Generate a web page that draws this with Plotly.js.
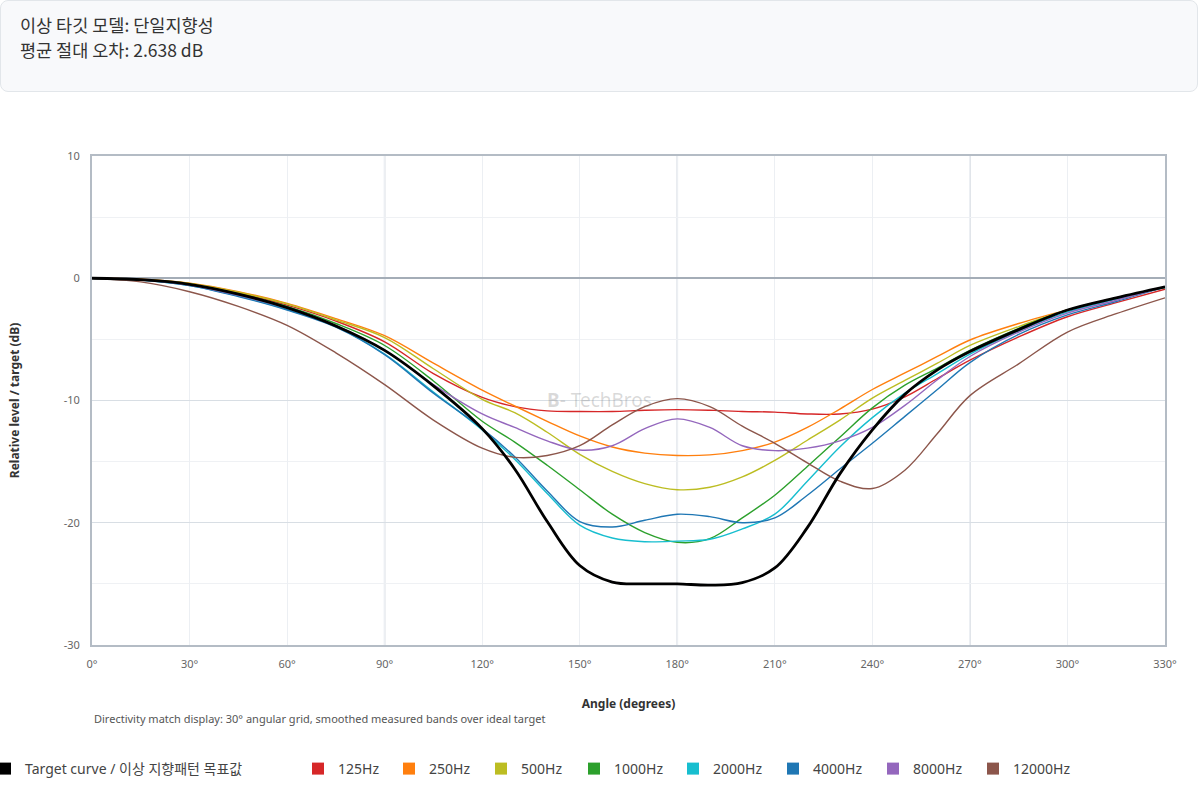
<!DOCTYPE html>
<html>
<head>
<meta charset="utf-8">
<script src="https://cdn.plot.ly/plotly-3.0.1.min.js"></script>
<style>
  html, body { margin: 0; padding: 0; background: #ffffff; }
  #wrap { position: relative; width: 1200px; height: 800px; overflow: hidden; }
  #chart { position: absolute; left: 0; top: 0; width: 1200px; height: 800px; }
  #header {
    position: absolute; left: 0; top: 0; width: 1198px; height: 92px;
    box-sizing: border-box; border: 1px solid #e2e6ea; border-radius: 8px;
    background: #f8f9fb; padding: 11px 0 0 19px; z-index: 5;
    font-family: "Noto Sans CJK KR", "Noto Sans", sans-serif; font-size: 17.5px;
    line-height: 25px; color: #333;
  }
</style>
</head>
<body>
<div id="wrap">
  <div id="chart"></div>
  <div id="header">
    <div id="line1"></div>
    <div id="line2"></div>
  </div>
</div>
<script>
// ---- header texts ----
const headerModel = "이상 타깃 모델: 단일지향성";
const headerError = "평균 절대 오차: 2.638 dB";

// ---- axis ticks ----
const xTickVals = [0, 30, 60, 90, 120, 150, 180, 210, 240, 270, 300, 330];
const xTickText = ["0°", "30°", "60°", "90°", "120°", "150°", "180°", "210°", "240°", "270°", "300°", "330°"];
const yTickVals = [-30, -20, -10, 0, 10];
const yTickText = ["-30", "-20", "-10", "0", "10"];
const majorAngles = [90, 180, 270];

// ---- data (dB) ----
const angles = [0, 15, 30, 45, 60, 75, 90, 105, 120, 130, 140, 150, 160, 170, 180, 190, 200, 210, 220, 230, 240, 250, 260, 270, 285, 300, 315, 330];

const target   = [0, -0.12, -0.5, -1.3, -2.4, -3.9, -5.9, -8.8, -12.3, -15.6, -19.9, -23.5, -24.85, -25.0, -25.0, -25.1, -24.9, -23.7, -20.4, -16.0, -12.4, -9.5, -7.5, -6.0, -4.2, -2.6, -1.6, -0.7];
const hz125    = [0, -0.1, -0.45, -1.2, -2.2, -3.5, -5.2, -7.8, -9.75, -10.5, -10.85, -10.9, -10.9, -10.8, -10.75, -10.8, -10.9, -10.95, -11.1, -11.1, -10.7, -9.7, -8.2, -6.7, -4.8, -3.15, -2.0, -0.9];
const hz250    = [0, -0.08, -0.4, -1.1, -2.05, -3.3, -4.7, -6.95, -9.15, -10.45, -11.7, -12.9, -13.8, -14.3, -14.5, -14.45, -14.1, -13.4, -12.2, -10.7, -9.1, -7.75, -6.4, -5.05, -3.7, -2.6, -1.6, -0.75];
const hz500    = [0, -0.1, -0.42, -1.15, -2.1, -3.4, -4.85, -7.4, -9.9, -11.0, -12.6, -14.4, -15.8, -16.8, -17.3, -17.1, -16.25, -14.9, -13.25, -11.6, -9.8, -8.35, -6.95, -5.5, -3.95, -2.6, -1.6, -0.75];
const hz1000   = [0, -0.12, -0.5, -1.3, -2.3, -3.7, -5.5, -8.4, -11.7, -13.4, -15.3, -17.3, -19.3, -20.8, -21.6, -21.3, -19.6, -17.75, -15.4, -13.0, -10.6, -8.75, -7.35, -5.9, -4.1, -2.6, -1.6, -0.7];
const hz2000   = [0, -0.15, -0.6, -1.45, -2.55, -3.95, -6.2, -9.3, -12.4, -14.8, -17.6, -20.2, -21.25, -21.55, -21.5, -21.35, -20.5, -19.3, -16.6, -13.8, -11.4, -9.4, -7.8, -6.2, -4.3, -2.75, -1.7, -0.75];
const hz4000   = [0, -0.15, -0.6, -1.5, -2.6, -4.0, -6.25, -9.4, -12.3, -14.6, -17.4, -19.9, -20.35, -19.8, -19.3, -19.5, -20.0, -19.6, -17.75, -15.6, -13.5, -11.3, -9.1, -6.9, -4.6, -3.0, -1.9, -0.7];
const hz8000   = [0, -0.12, -0.55, -1.4, -2.45, -3.85, -5.9, -8.7, -11.1, -12.2, -13.3, -14.05, -13.7, -12.3, -11.5, -12.2, -13.7, -14.1, -13.9, -13.3, -12.2, -10.4, -8.3, -6.4, -4.4, -2.85, -1.8, -0.7];
const hz12000  = [0, -0.3, -1.1, -2.3, -3.85, -6.1, -8.7, -11.6, -13.9, -14.65, -14.5, -13.7, -12.0, -10.5, -9.85, -10.5, -12.1, -13.5, -15.1, -16.6, -17.2, -15.7, -12.7, -9.6, -7.0, -4.4, -2.9, -1.6];

const targetName = "Target curve / 이상 지향패턴 목표값";
const bandNames  = ["125Hz", "250Hz", "500Hz", "1000Hz", "2000Hz", "4000Hz", "8000Hz", "12000Hz"];
const bandValues = [hz125, hz250, hz500, hz1000, hz2000, hz4000, hz8000, hz12000];
const bandColors = ["#d62728", "#ff7f0e", "#bcbd22", "#2ca02c", "#17becf", "#1f77b4", "#9467bd", "#8c564b"];
const targetColor = "#000000";

// legend entry left positions (px in the 1200px container)
const legendLeftPx = [0, 298, 389, 481, 574, 673, 773, 873, 973];

const noteText = "Directivity match display: 30° angular grid, smoothed measured bands over ideal target";

document.getElementById("line1").textContent = headerModel;
document.getElementById("line2").textContent = headerError;

const FONT = "Noto Sans, Noto Sans CJK KR, sans-serif";

const traces = [];
bandNames.forEach((name, i) => {
  traces.push({
    x: angles, y: bandValues[i], type: "scatter", mode: "lines", name: name,
    line: { color: bandColors[i], width: 1.4, shape: "spline", smoothing: 1 },
    showlegend: false
  });
});
traces.push({
  x: angles, y: target, type: "scatter", mode: "lines", name: targetName,
  line: { color: targetColor, width: 2.8, shape: "spline", smoothing: 1 },
  showlegend: false
});

// legend entries (square swatches), one legend box each for exact spacing
const legendNames = [targetName].concat(bandNames);
const legendColors = [targetColor].concat(bandColors);
const layoutLegends = {};
legendNames.forEach((name, i) => {
  const key = i === 0 ? "legend" : "legend" + (i + 1);
  traces.push({
    x: [null], y: [null], type: "scatter", mode: "markers", name: name,
    marker: { symbol: "square", size: 12, color: legendColors[i] }, legend: key, hoverinfo: "skip"
  });
  layoutLegends[key] = {
    orientation: "h", xref: "container", yref: "container",
    x: legendLeftPx[i] / 1200, xanchor: "left", y: 1 - 769 / 800, yanchor: "middle",
    indentation: i === 0 ? -15 : 0,
    font: { family: FONT, size: 14, color: "#444" }, bgcolor: "rgba(0,0,0,0)", borderwidth: 0
  };
});

const shapes = majorAngles.map(a => ({
  type: "line", xref: "x", yref: "paper", x0: a, x1: a, y0: 0, y1: 1,
  line: { color: "#d5dbe2", width: 1.6 }, layer: "below"
}));

const layout = Object.assign({
  width: 1200, height: 800,
  margin: { l: 92, r: 35, t: 156, b: 155, autoexpand: false },
  paper_bgcolor: "#ffffff", plot_bgcolor: "#ffffff",
  font: { family: FONT, size: 11, color: "#666" },
  showlegend: true,
  xaxis: {
    range: [0, 330], tickvals: xTickVals, ticktext: xTickText, automargin: false,
    showgrid: true, gridcolor: "#eceff3", gridwidth: 1,
    showline: true, linecolor: "#b4bcc5", linewidth: 2, mirror: true,
    zeroline: false, ticks: "", ticklabelstandoff: 8,
    tickfont: { family: FONT, size: 11, color: "#666" },
    title: { text: "Angle (degrees)", standoff: 29, font: { family: FONT, size: 12, color: "#333", weight: "bold" } },
    fixedrange: true
  },
  yaxis: {
    range: [-30, 10], tickvals: yTickVals, ticktext: yTickText, automargin: false,
    showgrid: true, gridcolor: "#d8dee4", gridwidth: 1.4,
    minor: { dtick: 5, tick0: 0, showgrid: true, gridcolor: "#eff1f4", gridwidth: 1, ticks: "" },
    showline: true, linecolor: "#b4bcc5", linewidth: 2, mirror: true,
    zeroline: true, zerolinecolor: "#a4adb7", zerolinewidth: 1.8,
    ticks: "", ticklabelstandoff: 8,
    tickfont: { family: FONT, size: 11, color: "#666" },
    title: { text: "Relative level / target (dB)", standoff: 41, font: { family: FONT, size: 12, color: "#333", weight: "bold" } },
    fixedrange: true
  },
  shapes: shapes,
  annotations: [
    {
      text: noteText, xref: "paper", yref: "paper", x: 0, y: -0.1513,
      xanchor: "left", yanchor: "middle", showarrow: false,
      font: { family: FONT, size: 11, color: "#555" }
    },
    {
      text: "<b>B</b>- TechBros", xref: "paper", yref: "paper", x: 0.473, y: 0.501,
      xanchor: "center", yanchor: "middle", showarrow: false,
      font: { family: FONT, size: 19, color: "rgba(120,120,120,0.28)" }
    }
  ]
}, layoutLegends);

Plotly.newPlot("chart", traces, layout, { displayModeBar: false, staticPlot: true });
</script>
</body>
</html>
